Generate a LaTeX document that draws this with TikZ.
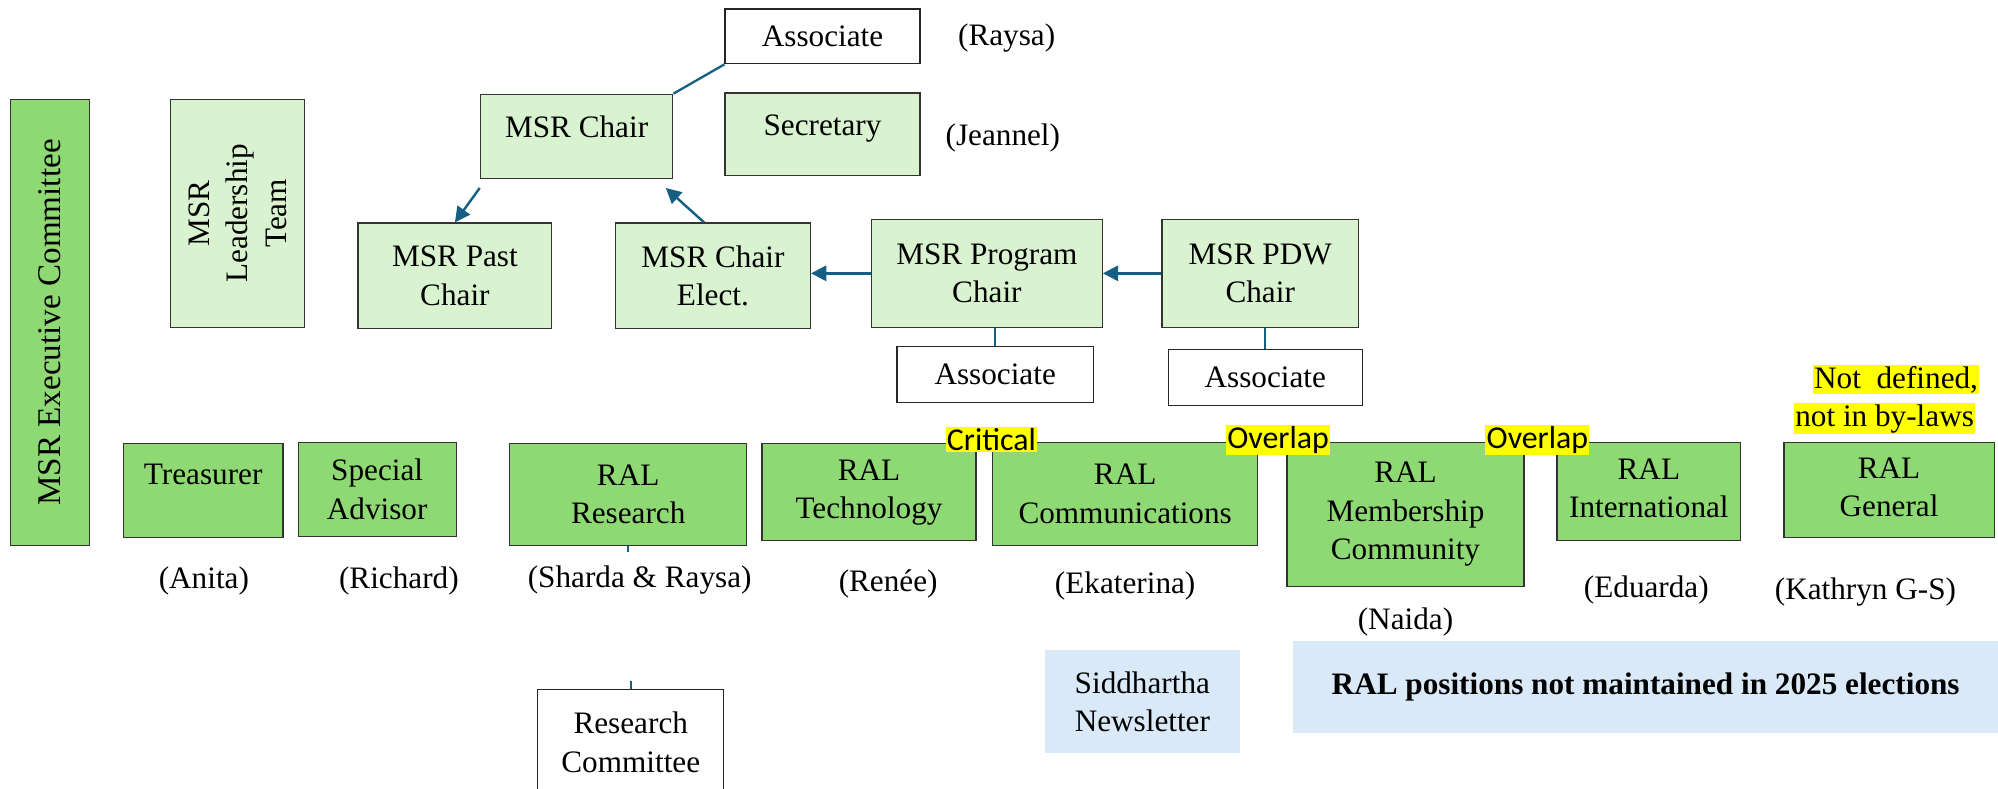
\documentclass[tikz,border=0pt]{standalone}
\usepackage{fontspec}
\setmainfont{Liberation Serif}
\newfontfamily\hlfont{Carlito}
\usetikzlibrary{arrows.meta}
\definecolor{dgreen}{RGB}{142,217,115}
\definecolor{lgreen}{RGB}{217,242,208}
\definecolor{lblue}{RGB}{218,233,247}
\definecolor{tealc}{RGB}{21,96,130}
\definecolor{hly}{RGB}{255,255,0}
\begin{document}
\begin{tikzpicture}[x=1pt,y=-1pt,
  every node/.style={font=\fontsize{24.5}{30}\selectfont, inner sep=0pt, align=center},
  dbox/.style={fill=dgreen, draw=black!80, line width=1pt},
  lbox/.style={fill=lgreen, draw=black!80, line width=1pt},
  wbox/.style={fill=white, draw=black!85, line width=1pt},
  bbox/.style={fill=lblue, draw=none},
  person/.style={},
  hl/.style={fill=hly, inner xsep=1pt, inner ysep=1pt},
  hlsans/.style={hl, font=\hlfont\fontsize{25}{28}\selectfont},
  arr/.style={draw=tealc, line width=1.9pt, -{Triangle[length=12pt,width=12pt]}},
  conn/.style={draw=tealc, line width=1.8pt},
]
\useasboundingbox (0,0) rectangle (1568,619);

% left column
\node[dbox, rotate=90, minimum width=350pt, minimum height=62pt, font=\fontsize{26}{30}\selectfont] (exec) at (39,253) {MSR Executive Committee};
\node[lbox, rotate=90, minimum width=179pt, minimum height=105pt] (lead) at (186.5,167.5) {MSR\\Leadership\\Team};

% top structure
\node[lbox, minimum width=151pt, text height=34pt, text depth=32pt] (chair) at (452.5,107) {MSR Chair};
\node[wbox, minimum width=153pt, minimum height=43pt] (assoc1) at (645.5,28.5) {Associate};
\node[lbox, minimum width=153pt, text height=33pt, text depth=32pt] (secr) at (645.5,105.5) {Secretary};
\node[person] (raysa1) at (790,30) {(Raysa)};
\node[person] (jeannel) at (787,108) {(Jeannel)};
\node[lbox, minimum width=152pt, minimum height=83pt] (past) at (357,216.5) {MSR Past\\Chair};
\node[lbox, minimum width=153pt, minimum height=83pt] (elect) at (559.5,216.5) {MSR Chair\\Elect.};
\node[lbox, minimum width=181pt, minimum height=85pt] (prog) at (774.5,214.5) {MSR Program\\Chair};
\node[lbox, minimum width=154pt, minimum height=85pt] (pdw) at (989,214.5) {MSR PDW\\Chair};
\node[wbox, minimum width=154pt, minimum height=44pt] (assocP) at (781,294) {Associate};
\node[wbox, minimum width=152pt, minimum height=44pt] (assocD) at (993,296) {Associate};

% bottom row
\node[dbox, minimum width=125pt, text height=32pt, text depth=42pt] (treas) at (159.5,385) {Treasurer};
\node[dbox, minimum width=124pt, minimum height=74pt] (spec) at (296,384) {Special\\Advisor};
\node[dbox, minimum width=186pt, minimum height=80pt] (res) at (493,388) {RAL\\Research};
\node[dbox, minimum width=168pt, minimum height=76pt] (tech) at (682,386) {\raisebox{-4pt}{\begin{tabular}{@{}c@{}}RAL\\Technology\end{tabular}}};
\node[dbox, minimum width=208pt, minimum height=81pt] (comm) at (883,387.5) {RAL\\Communications};
\node[dbox, minimum width=186pt, minimum height=113pt] (memb) at (1103,403.5) {RAL\\Membership\\Community};
\node[dbox, minimum width=144pt, minimum height=77pt] (intl) at (1294,385.5) {\raisebox{-3pt}{\begin{tabular}{@{}c@{}}RAL\\International\end{tabular}}};
\node[dbox, minimum width=165pt, minimum height=75pt] (gen) at (1482.5,384.5) {\raisebox{-3pt}{\begin{tabular}{@{}c@{}}RAL\\General\end{tabular}}};

% highlights
\node[hlsans] (crit) at (778,345) {Critical};
\node[hlsans] (ovl1) at (1003,345) {Overlap};
\node[hlsans] (ovl2) at (1206.5,345) {Overlap};
\node[hl] (notdef) at (1488,298) {Not\ \ defined,};
\node[hl] (notby) at (1479,328.5) {not in by-laws};

% names
\node[person] (anita) at (160,456) {(Anita)};
\node[person] (richard) at (313,456) {(Richard)};
\node[person] (sharda) at (502,455) {(Sharda \& Raysa)};
\node[person] (renee) at (697,458) {(Renée)};
\node[person] (ekat) at (883,460) {(Ekaterina)};
\node[person] (naida) at (1103,488) {(Naida)};
\node[person] (eduarda) at (1292,463) {(Eduarda)};
\node[person] (kathryn) at (1464,465) {(Kathryn G-S)};

% lower boxes
\node[wbox, minimum width=146pt, minimum height=88pt] (rc) at (495,585) {\raisebox{3pt}{\begin{tabular}{@{}c@{}}Research\\Committee\end{tabular}}};
\node[bbox, minimum width=153pt, minimum height=81pt] (sidd) at (896.5,550.5) {Siddhartha\\Newsletter};
\node[bbox, minimum width=553pt, minimum height=72pt, font=\bfseries\fontsize{24.5}{30}\selectfont] (ralpos) at (1291.5,539) {RAL positions not maintained in 2025 elections};

% connectors
\draw[conn] (chair.north east) -- (assoc1.south west);
\draw[arr] ([yshift=-7pt]chair.south west) -- (past.north);
\draw[arr] ([xshift=-7pt]elect.north) -- ([xshift=-6pt,yshift=-7pt]chair.south east);
\draw[arr] (prog.west) -- (prog.west -| elect.east);
\draw[arr] (pdw.west) -- (pdw.west -| prog.east);
\draw[conn] (assocP.north) -- (assocP.north |- prog.south);
\draw[conn] (assocD.north) -- (assocD.north |- pdw.south);
\draw[conn, line width=1.2pt] (res.south) -- ++(0,5);
\draw[conn, line width=1.2pt] (rc.north) -- ++(0,-6);
\end{tikzpicture}
\end{document}
